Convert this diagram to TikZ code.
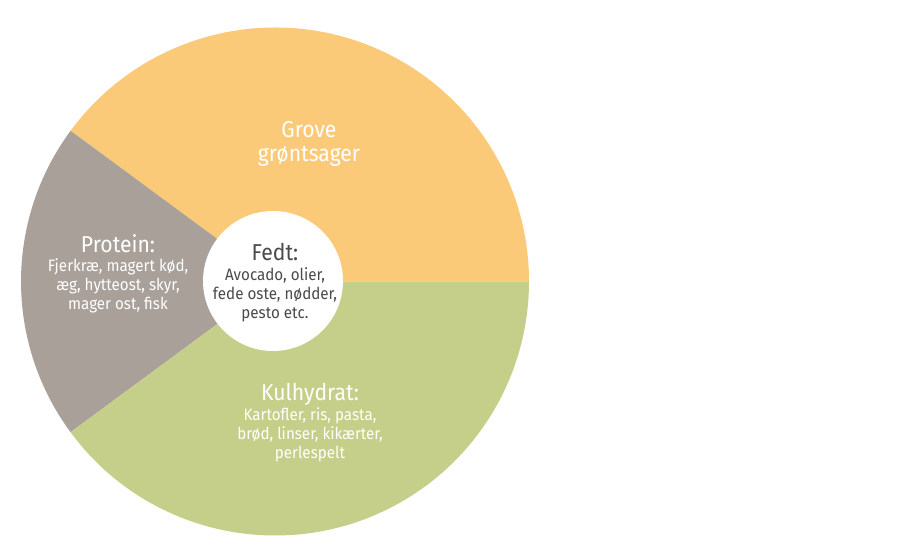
\documentclass[tikz,border=0pt]{standalone}
\usepackage{fontspec}
\setmainfont{Fira Sans}[FakeStretch=0.92]
\definecolor{orangew}{HTML}{FBCA78}
\definecolor{greyw}{HTML}{A9A09A}
\definecolor{greenw}{HTML}{C5CF89}
\definecolor{darktext}{HTML}{4A4A4A}
\tikzset{
  titletext/.style={anchor=base, align=center, inner sep=0pt, font=\fontsize{23}{24.5}\selectfont},
  bodytext/.style={anchor=base, align=center, inner sep=0pt, font=\fontsize{16.5}{19}\selectfont},
}
\begin{document}
\begin{tikzpicture}[x=1pt,y=1pt]
\useasboundingbox (0,0) rectangle (900,557);
\coordinate (C) at (275,275.5);
\coordinate (I) at (273,276);
\fill[orangew] (C) -- ++(0:254) arc[start angle=0,end angle=143.6,radius=254] -- cycle;
\fill[greyw] (C) -- ++(143.6:254) arc[start angle=143.6,end angle=216.4,radius=254] -- cycle;
\fill[greenw] (C) -- ++(216.4:254) arc[start angle=216.4,end angle=360,radius=254] -- cycle;
\fill[white] (I) circle[radius=70];
% Grove grøntsager (base = last line)
\node[titletext, text=white] (grove) at (309,395) {Grove\\grøntsager};
% Protein
\node[titletext, text=white] (protein) at (118,304) {Protein:};
\node[bodytext, text=white] (proteinbody) at (118,247) {Fjerkræ, magert kød,\\æg, hytteost, skyr,\\mager ost, fisk};
% Fedt
\node[titletext, text=darktext] (fedt) at (275,296) {Fedt:};
\node[bodytext, text=darktext] (fedtbody) at (275,238) {Avocado, olier,\\fede oste, nødder,\\pesto etc.};
% Kulhydrat
\node[titletext, text=white] (kul) at (310,156) {Kulhydrat:};
\node[bodytext, text=white] (kulbody) at (310,98) {Kartofler, ris, pasta,\\brød, linser, kikærter,\\perlespelt};
\end{tikzpicture}
\end{document}
